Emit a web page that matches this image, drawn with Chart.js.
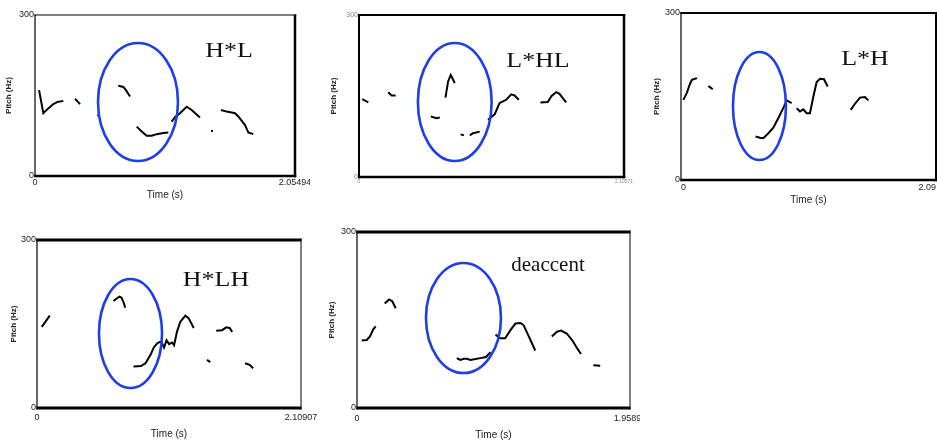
<!DOCTYPE html>
<html><head><meta charset="utf-8">
<script src="https://cdn.jsdelivr.net/npm/chart.js@4"></script>
<style>
html,body{margin:0;padding:0;background:#fff;width:937px;height:441px;overflow:hidden;position:relative}
canvas{position:absolute}
.lab{position:absolute;font-family:'Liberation Serif','Times New Roman',serif;color:#111;white-space:nowrap;line-height:1;transform:translate(-50%,-50%) scaleX(1.18)}
</style></head><body>
<canvas id="c1" width="310" height="202" style="left:0px;top:0px"></canvas>
<canvas id="c2" width="320" height="200" style="left:320px;top:0px"></canvas>
<canvas id="c3" width="297" height="210" style="left:640px;top:0px"></canvas>
<canvas id="c4" width="320" height="216" style="left:0px;top:225px"></canvas>
<canvas id="c5" width="320" height="216" style="left:320px;top:225px"></canvas>
<div class="lab" style="left:229px;top:50px;font-size:22px">H*L</div>
<div class="lab" style="left:538px;top:60px;font-size:22px">L*HL</div>
<div class="lab" style="left:865px;top:58px;font-size:22px">L*H</div>
<div class="lab" style="left:216px;top:279px;font-size:22px">H*LH</div>
<div class="lab" style="left:548px;top:264px;font-size:21px;transform:translate(-50%,-50%)">deaccent</div>
<script>
// ---------- DATA (time in s, pitch in Hz; null = break in the pitch track) ----------
const yTickLabels = ["0", "300"];

// H*L
const HL_tmax = 2.05494;
const HL_xticks = ["0", "2.05494"];
const HL_time  = [0.032,0.066,0.105,0.145,0.179,0.224, null, 0.316,0.356, null, 0.494,0.506, null, 0.658,0.698,0.719,0.751, null, 0.804,0.843,0.883,0.922,0.962,1.014,1.054, null, 1.080,1.107,1.146,1.199,1.238,1.304, null, 1.391,1.407, null, 1.470,1.515,1.581,1.607,1.660,1.686,1.725];
const HL_pitch = [160,117,126,134,138,140, null, 144,134, null, 114,111, null, 168,166,160,148, null, 92,83,75,75,78,80,81, null, 101,110,117,129,123,109, null, 84,84, null, 123,120,117,111,95,81,78];
const HL_circle = [0.814, 137.9, 0.316, 109.9]; // centre time, centre pitch, half-width (s), half-height (Hz)

// L*HL
const LHL_tmax = 2.10571;
const LHL_xticks = ["0", "2.10571"];
const LHL_time  = [0.026,0.074, null, 0.232,0.259,0.291, null, 0.571,0.616,0.642, null, 0.687,0.708,0.729,0.761, null, 0.808,0.834, null, 0.880,0.906,0.959, null, 1.025,1.078,1.117,1.170,1.210,1.236,1.270, null, 1.442,1.500,1.530,1.567,1.593,1.646];
const LHL_pitch = [144,138, null, 157,151,151, null, 112,109,110, null, 147,177,189,174, null, 79,77, null, 77,81,84, null, 106,116,137,143,153,151,143, null, 138,139,150,157,154,138];
const LHL_circle = [0.761, 138.9, 0.293, 109.3];

// L*H
const LH_tmax = 2.09;
const LH_xticks = ["0", "2.09"];
const LH_time  = [0.019,0.047,0.074,0.090,0.115,0.131, null, 0.224,0.242,0.260, null, 0.611,0.647,0.675,0.716,0.757,0.797,0.838,0.866,0.907, null, 0.948,0.975,1.002,1.030,1.057,1.084,1.112,1.139,1.172,1.202, null, 1.391,1.426,1.467,1.508,1.535];
const LH_pitch = [144,156,173,180,182,183, null, 169,166,163, null, 78,76,75,84,94,111,129,143,138, null, 129,123,127,120,120,149,176,182,181,168, null, 126,137,148,149,143];
const LH_circle = [0.643, 132.9, 0.217, 97.0];

// H*LH
const HLH_tmax = 2.10907;
const HLH_xticks = ["0", "2.10907"];
const HLH_time  = [0.038,0.064,0.102, null, 0.611,0.639,0.659,0.675,0.691,0.705, null, 0.771,0.831,0.867,0.907,0.935,0.963,0.985,0.996,1.015,1.035,1.055,1.079,1.095,1.118,1.145,1.185,1.212,1.252, null, 1.358,1.384, null, 1.432,1.478,1.512,1.539,1.559, null, 1.663,1.699,1.727];
const HLH_pitch = [145,153,165, null, 191,196,199,197,189,179, null, 74,75,80,95,109,116,118,117,108,121,114,117,112,136,154,165,160,143, null, 86,82, null, 138,139,144,143,136, null, 80,77,71];
const HLH_circle = [0.747, 133.0, 0.252, 97.3];

// deaccent
const DE_tmax = 1.95891;
const DE_xticks = ["0", "1.95891"];
const DE_time  = [0.034,0.070,0.093,0.117,0.134, null, 0.199,0.230,0.253,0.278, null, 0.716,0.741,0.768,0.789,0.814,0.840,0.885,0.926,0.958, null, 0.994,1.028,1.063,1.105,1.137,1.173,1.196,1.231,1.279, null, 1.398,1.435,1.464,1.505,1.546,1.579,1.607, null, 1.696,1.745];
const DE_pitch = [115,116,122,134,139, null, 178,185,182,170, null, 85,82,84,84,82,83,85,87,95, null, 125,119,119,134,144,145,141,123,98, null, 122,130,132,127,115,102,92, null, 73,72];
const DE_circle = [0.764, 153.4, 0.269, 93.8];

// ---------- LAYOUT / STYLE ----------
Chart.defaults.font.family = "'Liberation Sans Narrow','Liberation Sans',Arial,sans-serif";
Chart.defaults.color = '#222';

function segments(t, p) {
  const out = []; let cur = [];
  for (let i = 0; i < t.length; i++) {
    if (t[i] === null || p[i] === null) { if (cur.length) out.push(cur); cur = []; }
    else cur.push({x: t[i], y: p[i]});
  }
  if (cur.length) out.push(cur);
  return out;
}

const overlay = {
  id: 'overlay',
  afterDatasetsDraw(chart, args, o) {
    const {ctx, chartArea: a, scales: {x, y}} = chart;
    const e = o.circle;
    ctx.save();
    const cx = x.getPixelForValue(e[0]), cy = y.getPixelForValue(e[1]);
    const rx = Math.abs(x.getPixelForValue(e[0] + e[2]) - cx);
    const ry = Math.abs(y.getPixelForValue(e[1] + e[3]) - cy);
    ctx.strokeStyle = '#1f3ee8'; ctx.lineWidth = 2.6;
    ctx.beginPath(); ctx.ellipse(cx, cy, rx, ry, 0, 0, Math.PI * 2); ctx.stroke();
    const b = o.border; // top, right, bottom, left
    ctx.strokeStyle = '#000'; ctx.lineCap = 'butt';
    const seg = (x1, y1, x2, y2, w) => { ctx.lineWidth = w; ctx.beginPath(); ctx.moveTo(x1, y1); ctx.lineTo(x2, y2); ctx.stroke(); };
    seg(a.left - b[3] / 2, a.top, a.right + b[1] / 2, a.top, b[0]);
    seg(a.right, a.top - b[0] / 2, a.right, a.bottom + b[2] / 2, b[1]);
    seg(a.left - b[3] / 2, a.bottom, a.right + b[1] / 2, a.bottom, b[2]);
    seg(a.left, a.top - b[0] / 2, a.left, a.bottom + b[2] / 2, b[3]);
    ctx.restore();
  }
};

function makeChart(id, time, pitch, tmax, xticks, circle, L) {
  const datasets = segments(time, pitch).map(s => ({data: s, borderColor: '#000', borderWidth: 2, pointRadius: 0, tension: 0, fill: false}));
  const tf = L.tickFont;
  new Chart(document.getElementById(id), {
    type: 'line',
    data: {datasets},
    plugins: [overlay],
    options: {
      responsive: false, animation: false, devicePixelRatio: 1,
      layout: {padding: {left: 0, top: L.T, right: L.W - L.R, bottom: 0}},
      plugins: {legend: {display: false}, tooltip: {enabled: false}, overlay: {circle, border: L.border}},
      scales: {
        x: {
          type: 'linear', min: 0, max: tmax,
          grid: {display: false, drawTicks: false}, border: {display: false},
          afterBuildTicks: s => { s.ticks = [{value: 0}, {value: tmax}]; },
          afterFit: s => { s.height = L.H - L.B; s.paddingLeft = 0; s.paddingRight = 0; },
          ticks: {autoSkip: false, maxRotation: 0, align: L.xAlign || 'center', padding: L.tickOff - 0.6 * tf,
                  font: {size: tf}, color: L.tickColor || '#222',
                  callback: v => (v === 0 ? xticks[0] : xticks[1])},
          title: {display: L.xTitle, text: 'Time (s)', color: '#222', font: {size: 10},
                  padding: {top: 0, bottom: Math.max(0, L.H - L.B - L.titleOff - 6)}}
        },
        y: {
          min: 0, max: 300,
          grid: {display: false, drawTicks: false}, border: {display: false},
          afterBuildTicks: s => { s.ticks = [{value: 0}, {value: 300}]; },
          afterFit: s => { s.width = L.L; s.paddingTop = 0; s.paddingBottom = 0; },
          ticks: {autoSkip: false, padding: 1, font: {size: L.yTickFont || 9}, color: L.tickColor || '#222',
                  callback: v => (v === 0 ? yTickLabels[0] : yTickLabels[1])},
          title: {display: true, text: 'Pitch (Hz)', color: '#222', font: {size: 8, weight: 'bold'},
                  padding: {top: L.yTitleX - 4.8, bottom: 0}}
        }
      }
    }
  });
}

makeChart('c1', HL_time, HL_pitch, HL_tmax, HL_xticks, HL_circle,
  {W: 310, H: 202, L: 35, T: 15, R: 295, B: 176, tickOff: 7, titleOff: 19, tickFont: 9, xTitle: true, yTitleX: 9, border: [1, 2.5, 2.5, 1.2]});
makeChart('c2', LHL_time, LHL_pitch, LHL_tmax, LHL_xticks, LHL_circle,
  {W: 320, H: 200, L: 39, T: 15, R: 304, B: 177, tickOff: 5, titleOff: 19, tickFont: 5, yTickFont: 7, tickColor: '#888', xTitle: false, yTitleX: 14, border: [2, 2.5, 2.5, 2]});
makeChart('c3', LH_time, LH_pitch, LH_tmax, LH_xticks, LH_circle,
  {W: 297, H: 210, L: 41, T: 13, R: 296, B: 180, tickOff: 8, titleOff: 20, tickFont: 9, xTitle: true, xAlign: 'inner', yTitleX: 17, border: [2, 2, 2.5, 1.2]});
makeChart('c4', HLH_time, HLH_pitch, HLH_tmax, HLH_xticks, HLH_circle,
  {W: 320, H: 216, L: 37, T: 15, R: 301, B: 183, tickOff: 10, titleOff: 26, tickFont: 9, xTitle: true, yTitleX: 14, border: [3, 1, 3, 1.2]});
makeChart('c5', DE_time, DE_pitch, DE_tmax, DE_xticks, DE_circle,
  {W: 320, H: 216, L: 37, T: 7, R: 310, B: 183, tickOff: 11, titleOff: 28, tickFont: 9, xTitle: true, yTitleX: 12, border: [3, 1, 3, 1.2]});
</script>
</body></html>
